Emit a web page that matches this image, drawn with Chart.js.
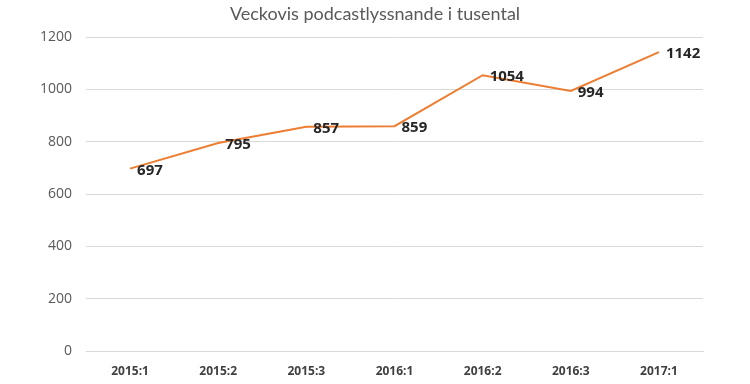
<!DOCTYPE html>
<html>
<head>
<meta charset="utf-8">
<script src="https://cdn.jsdelivr.net/npm/chart.js@4/dist/chart.umd.min.js"></script>
<style>
  html, body { margin: 0; padding: 0; background: #fff; }
  #wrap { width: 750px; height: 384px; }
</style>
</head>
<body>
<div id="wrap"><canvas id="chart"></canvas></div>
<script>
const categories = ['2015:1', '2015:2', '2015:3', '2016:1', '2016:2', '2016:3', '2017:1'];
const listeners = [697, 795, 857, 859, 1054, 994, 1142];
const yTicks = [0, 200, 400, 600, 800, 1000, 1200];
const titleText = 'Veckovis podcastlyssnande i tusental';

// value labels to the right of each point, title centred on the canvas
const valueLabels = {
  id: 'valueLabels',
  afterDatasetsDraw(chart) {
    const c = chart.ctx;
    const meta = chart.getDatasetMeta(0);
    c.save();
    c.font = 'bold 15px "Open Sans"';
    c.fillStyle = '#262626';
    c.textAlign = 'left';
    c.textBaseline = 'middle';
    meta.data.forEach((pt, i) => {
      c.fillText(String(listeners[i]), pt.x + 7, pt.y + 2);
    });
    c.font = '18px Lato';
    c.fillStyle = '#595959';
    c.textAlign = 'center';
    c.fillText(titleText, chart.width / 2, 14);
    c.restore();
  }
};

const ctx = document.getElementById('chart').getContext('2d');
const myChart = new Chart(ctx, {
  type: 'line',
  data: {
    labels: categories,
    datasets: [{
      label: 'Veckovis podcastlyssnande',
      data: listeners,
      borderColor: '#ED7D31',
      borderWidth: 2,
      pointRadius: 0,
      tension: 0,
      fill: false
    }]
  },
  options: {
    responsive: true,
    maintainAspectRatio: false,
    animation: false,
    layout: { padding: { left: 0, right: 47, top: 37, bottom: 0 } },
    plugins: {
      legend: { display: false },
      tooltip: { enabled: false },
      title: { display: false }
    },
    scales: {
      x: {
        offset: true,
        grid: { display: false, drawTicks: false },
        border: { display: true, color: '#d9d9d9', width: 1 },
        ticks: {
          color: '#404040',
          font: { family: 'Open Sans', size: 12, weight: 'bold' },
          padding: 13,
          maxRotation: 0
        },
        afterFit(scale) { scale.height = 33; }
      },
      y: {
        min: 0,
        max: 1200,
        afterBuildTicks(scale) { scale.ticks = yTicks.map(v => ({ value: v })); },
        grid: { color: '#d9d9d9', drawTicks: false },
        border: { display: false },
        ticks: {
          color: '#595959',
          font: { family: 'Open Sans', size: 14 },
          padding: 14,
          callback: v => String(v)
        },
        afterFit(scale) { scale.width = 86; }
      }
    }
  },
  plugins: [valueLabels]
});
</script>
</body>
</html>
